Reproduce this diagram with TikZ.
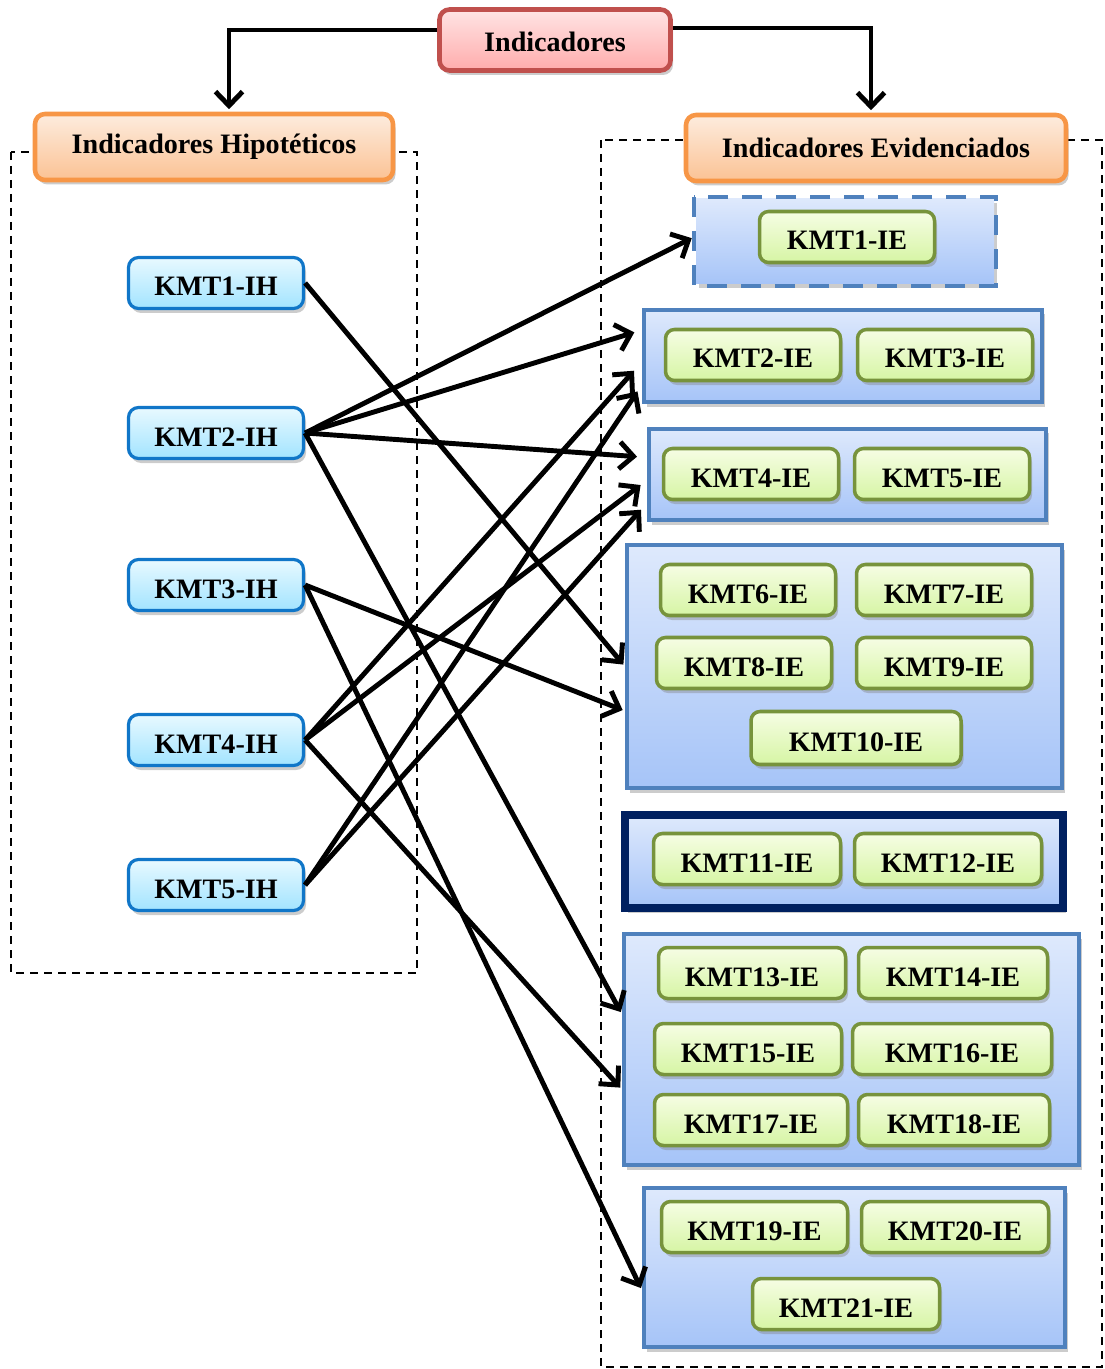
\documentclass[tikz,border=0pt]{standalone}
\usepackage{fontspec}
\setmainfont{Liberation Serif}
\usepackage{tikz}
\usetikzlibrary{arrows.meta,shadows,calc}

\definecolor{rojoborde}{RGB}{192,80,77}
\definecolor{rojoarriba}{RGB}{255,228,228}
\definecolor{rojoabajo}{RGB}{255,172,172}
\definecolor{naranjaborde}{RGB}{247,150,70}
\definecolor{naranjaarriba}{RGB}{253,236,222}
\definecolor{naranjaabajo}{RGB}{251,194,148}
\definecolor{azulborde}{RGB}{16,118,200}
\definecolor{azularriba}{RGB}{232,249,255}
\definecolor{azulabajo}{RGB}{162,228,255}
\definecolor{verdeborde}{RGB}{119,147,60}
\definecolor{verdearriba}{RGB}{246,253,228}
\definecolor{verdeabajo}{RGB}{214,245,164}
\definecolor{grupoborde}{RGB}{79,129,189}
\definecolor{grupoarriba}{RGB}{222,233,252}
\definecolor{grupoabajo}{RGB}{166,196,248}
\definecolor{marino}{RGB}{0,32,96}

\tikzset{
  sombra/.style={drop shadow={shadow xshift=0.5mm,shadow yshift=-0.9mm,opacity=0.4}},
  raiz/.style={draw=rojoborde,line width=2.6pt,rounded corners=2mm,top color=rojoarriba,bottom color=rojoabajo,
    minimum width=46.2mm,minimum height=12.2mm,text height=4.6mm,text depth=0pt,sombra},
  cabeza/.style={draw=naranjaborde,line width=2.6pt,rounded corners=2mm,top color=naranjaarriba,bottom color=naranjaabajo,
    minimum height=13.2mm,sombra},
  ihbox/.style={draw=azulborde,line width=1.8pt,rounded corners=2mm,top color=azularriba,bottom color=azulabajo,
    minimum width=35mm,minimum height=10.2mm,text height=5.2mm,text depth=0pt,sombra},
  iebox/.style={draw=verdeborde,line width=2pt,rounded corners=1.8mm,top color=verdearriba,bottom color=verdeabajo,
    minimum width=35mm,minimum height=10.2mm,text height=5.2mm,text depth=0pt,sombra},
  grupo/.style={draw=grupoborde,line width=2.3pt,top color=grupoarriba,bottom color=grupoabajo,sombra},
  marco/.style={draw=black,line width=1pt,dash pattern=on 1.6mm off 1.2mm},
  flecha/.style={line width=2.8pt,-{Straight Barb[length=2.8mm,width=5.4mm]},shorten >=0.5mm}
}

\begin{document}
\begin{tikzpicture}[x=0.2mm,y=-0.2mm,font=\bfseries\fontsize{16}{19}\selectfont]
\useasboundingbox (0,0) rectangle (1104,1369);

% marcos punteados
\draw[marco] (11,152) rectangle (417,973);
\draw[marco] (601,140) rectangle (1102,1367);

% cabeceras
\node[raiz] (ind) at (555,40) {Indicadores};
\node[cabeza,minimum width=71.6mm] (hip) at (214,147) {Indicadores Hipotéticos};
\node[cabeza,minimum width=76mm] (evi) at (876,148) {Indicadores Evidenciados};
\draw[flecha] ([yshift=2mm]ind.west) -| ([xshift=3mm]hip.north);
\draw[flecha] ([yshift=2.4mm]ind.east) -| ([xshift=-1mm]evi.north);

% indicadores hipoteticos
\node[ihbox] (ih1) at (216,283) {KMT1-IH};
\node[ihbox] (ih2) at (216,433) {KMT2-IH};
\node[ihbox] (ih3) at (216,585) {KMT3-IH};
\node[ihbox] (ih4) at (216,740) {KMT4-IH};
\node[ihbox] (ih5) at (216,885) {KMT5-IH};

% grupos de indicadores evidenciados
\node[grupo,draw=none,minimum width=59.6mm,minimum height=17mm] (g1) at (845,241.5) {};
\draw[grupoborde,line width=2.6pt,dash pattern=on 4mm off 2.8mm] (g1.north west) rectangle (g1.south east);
\node[grupo,minimum width=79.6mm,minimum height=18.4mm] (g2) at (843,356) {};
\node[grupo,minimum width=79.4mm,minimum height=18.2mm] (g3) at (847.5,474.5) {};
\node[grupo,minimum width=87mm,minimum height=48.6mm] (g4) at (844.5,666.5) {};
\node[grupo,draw=marino,line width=4.5pt,minimum width=87.6mm,minimum height=18.6mm] (g5) at (844,861.5) {};
\node[grupo,minimum width=91mm,minimum height=46.2mm] (g6) at (851.5,1049.5) {};
\node[grupo,minimum width=84.2mm,minimum height=31.8mm] (g7) at (854.5,1267.5) {};

\node[iebox] (e1) at (847,237) {KMT1-IE};
\node[iebox] (e2) at (753,355) {KMT2-IE};
\node[iebox] (e3) at (945,355) {KMT3-IE};
\node[iebox] (e4) at (751,474) {KMT4-IE};
\node[iebox] (e5) at (942,474) {KMT5-IE};
\node[iebox] (e6) at (748,590) {KMT6-IE};
\node[iebox] (e7) at (944,590) {KMT7-IE};
\node[iebox] (e8) at (744,663) {KMT8-IE};
\node[iebox] (e9) at (944,663) {KMT9-IE};
\node[iebox,minimum width=42mm,minimum height=10.6mm] (e10) at (856,738) {KMT10-IE};
\node[iebox,minimum width=37.4mm] (e11) at (747,859) {KMT11-IE};
\node[iebox,minimum width=37.4mm] (e12) at (948,859) {KMT12-IE};
\node[iebox,minimum width=37.4mm] (e13) at (752,973) {KMT13-IE};
\node[iebox,minimum width=37.8mm] (e14) at (953,973) {KMT14-IE};
\node[iebox,minimum width=37.4mm] (e15) at (748,1049) {KMT15-IE};
\node[iebox,minimum width=39.8mm] (e16) at (952,1049) {KMT16-IE};
\node[iebox,minimum width=38.6mm] (e17) at (751,1120) {KMT17-IE};
\node[iebox,minimum width=38.2mm] (e18) at (954,1120) {KMT18-IE};
\node[iebox,minimum width=37.2mm] (e19) at (754.5,1227) {KMT19-IE};
\node[iebox,minimum width=37.4mm] (e20) at (955,1227) {KMT20-IE};
\node[iebox,minimum width=37.4mm] (e21) at (846,1304) {KMT21-IE};

% relaciones
\draw[flecha] (ih1.east) -- ($(g4.north west)!0.5!(g4.south west)$);
\draw[flecha] (ih2.east) -- ($(g1.north west)!0.45!(g1.south west)$);
\draw[flecha,shorten >=1.6mm] (ih2.east) -- ($(g2.north west)!0.23!(g2.south west)$);
\draw[flecha,shorten >=2mm] (ih2.east) -- ($(g3.north west)!0.32!(g3.south west)$);
\draw[flecha] (ih2.east) -- ($(g6.north west)!0.35!(g6.south west)$);
\draw[flecha] (ih3.east) -- ($(g4.north west)!0.68!(g4.south west)$);
\draw[flecha] (ih3.east) -- ($(g7.north west)!0.64!(g7.south west)$);
\draw[flecha,shorten >=2.4mm] (ih4.east) -- ($(g2.north west)!0.56!(g2.south west)$);
\draw[flecha,shorten >=1.6mm] (ih4.east) -- ($(g3.north west)!0.56!(g3.south west)$);
\draw[flecha] (ih4.east) -- ($(g6.north west)!0.67!(g6.south west)$);
\draw[flecha,shorten >=1.6mm] (ih5.east) -- ($(g2.north west)!0.8!(g2.south west)$);
\draw[flecha,shorten >=1.8mm] (ih5.east) -- ($(g3.north west)!0.8!(g3.south west)$);
\end{tikzpicture}
\end{document}
